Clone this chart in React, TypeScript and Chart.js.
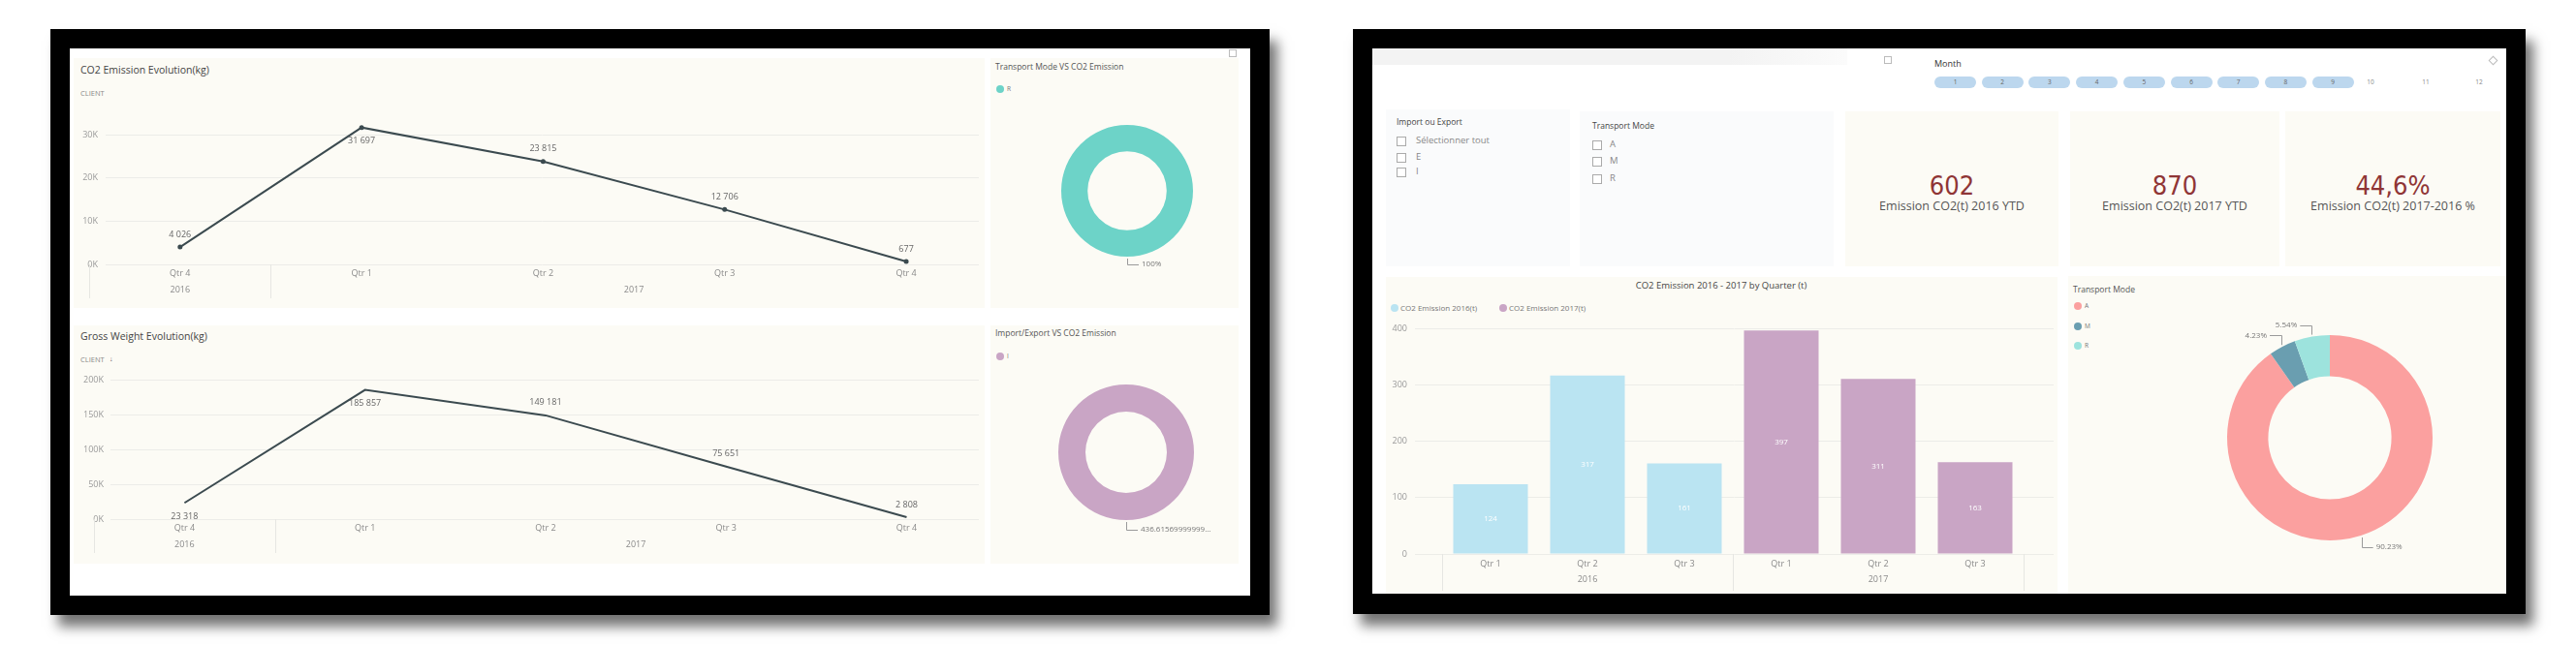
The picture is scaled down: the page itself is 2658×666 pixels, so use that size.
import React, { useEffect, useRef } from "react";
import { Chart, registerables } from "chart.js";

Chart.register(...registerables);

// ---------------- DATA ----------------
const lineQuarters = ["Qtr 4", "Qtr 1", "Qtr 2", "Qtr 3", "Qtr 4"];
const lineYears = ["2016", "2017", "2017", "2017", "2017"];
const co2EmissionKg = [4026, 31697, 23815, 12706, 677];
const grossWeightKg = [23318, 185857, 149181, 75651, 2808];
const co2TicksKg = [0, 10000, 20000, 30000];
const weightTicksKg = [0, 50000, 100000, 150000, 200000];

const barQuarters = ["Qtr 1", "Qtr 2", "Qtr 3", "Qtr 1", "Qtr 2", "Qtr 3"];
const barYears = ["2016", "2016", "2016", "2017", "2017", "2017"];
const co2Emission2016T = [124, 317, 161];
const co2Emission2017T = [397, 311, 163];
const barTicks = [0, 100, 200, 300, 400];
const barSeriesNames = ["CO2 Emission 2016(t)", "CO2 Emission 2017(t)"];

const transportModes = ["A", "M", "R"];
const transportShares = [90.23, 4.23, 5.54];
const filteredModes = ["R"];
const filteredModeShares = [100];
const importExportCodes = ["I"];
const importExportValues = [436.6156999999999];

const months = ["1", "2", "3", "4", "5", "6", "7", "8", "9", "10", "11", "12"];
const selectedMonthCount = 9;
const importExportItems = ["Sélectionner tout", "E", "I"];
const kpiValues = ["602", "870", "44,6%"];
const kpiLabels = ["Emission CO2(t) 2016 YTD", "Emission CO2(t) 2017 YTD", "Emission CO2(t) 2017-2016 %"];

// ---------------- STYLE ----------------
const FONT = "'Open Sans', 'Noto Sans', sans-serif";
const CREAM = "#FCFBF5";
const LINE_COLOR = "#3B4A4F";
const TEAL = "#6DD3C8";
const PURPLE = "#C9A5C5";
const BAR_BLUE = "#BAE4F2";
const MODE_COLORS = ["#FBA09F", "#6A9EB0", "#9DE3DD"];
const PILL = "#BCD7EE";
const KPI_RED = "#8F3535";

Chart.defaults.font.family = FONT;

const fmtThousands = (v: number) => String(Math.round(v)).replace(/\B(?=(\d{3})+(?!\d))/g, " ");

// ---------------- PLUGINS ----------------
const yearGroupsPlugin = {
  id: "yearGroups",
  afterDraw(chart: any, _a: any, opts: any) {
    const { ctx, chartArea } = chart;
    const x = chart.scales.x;
    const years: string[] = opts.years;
    const groups: { label: string; from: number; to: number }[] = [];
    years.forEach((y, i) => {
      const g = groups[groups.length - 1];
      if (g && g.label === y) g.to = i;
      else groups.push({ label: y, from: i, to: i });
    });
    const b = chartArea.bottom;
    ctx.save();
    ctx.strokeStyle = "#E6E6E2";
    ctx.lineWidth = 1;
    const seps = groups.map((g) => g.from - 0.5).concat([years.length - 0.5]);
    seps.forEach((v) => {
      const px = Math.round(x.getPixelForValue(v)) + 0.5;
      ctx.beginPath();
      ctx.moveTo(px, b);
      ctx.lineTo(px, b + opts.sepLength);
      ctx.stroke();
    });
    ctx.fillStyle = "#8a8a8a";
    ctx.font = `9px ${FONT}`;
    ctx.textAlign = "center";
    ctx.textBaseline = "middle";
    groups.forEach((g) => ctx.fillText(g.label, x.getPixelForValue((g.from + g.to) / 2), b + opts.yearOffset));
    ctx.restore();
  },
};

const pointLabelsPlugin = {
  id: "pointLabels",
  afterDatasetsDraw(chart: any, _a: any, opts: any) {
    const { ctx } = chart;
    const meta = chart.getDatasetMeta(0);
    const data = chart.data.datasets[0].data;
    ctx.save();
    ctx.fillStyle = "#666";
    ctx.font = `9px ${FONT}`;
    ctx.textAlign = "center";
    ctx.textBaseline = "middle";
    meta.data.forEach((el: any, i: number) => {
      const pos = opts.positions[i];
      const dy = pos === "below" ? 14 : -13;
      ctx.fillText(fmtThousands(data[i].y), el.x, el.y + dy);
    });
    ctx.restore();
  },
};

const barLabelsPlugin = {
  id: "barLabels",
  afterDatasetsDraw(chart: any) {
    const { ctx } = chart;
    ctx.save();
    ctx.fillStyle = "#ffffff";
    ctx.font = `8px ${FONT}`;
    ctx.textAlign = "center";
    ctx.textBaseline = "middle";
    chart.data.datasets.forEach((ds: any, di: number) => {
      chart.getDatasetMeta(di).data.forEach((el: any, i: number) => {
        const p = el.getProps(["x", "y", "base"], true);
        ctx.fillText(String(ds.data[i].y), p.x, (p.y + p.base) / 2);
      });
    });
    ctx.restore();
  },
};

const donutLabelsPlugin = {
  id: "donutLabels",
  afterDatasetsDraw(chart: any, _a: any, opts: any) {
    const { ctx } = chart;
    const meta = chart.getDatasetMeta(0);
    const data: number[] = chart.data.datasets[0].data;
    const total = data.reduce((a, b) => a + b, 0);
    ctx.save();
    ctx.strokeStyle = "#9a9a9a";
    ctx.lineWidth = 1;
    ctx.fillStyle = "#777";
    ctx.font = `8px ${FONT}`;
    ctx.textBaseline = "middle";
    meta.data.forEach((arc: any, i: number) => {
      const p = arc.getProps(["x", "y", "startAngle", "endAngle", "outerRadius"], true);
      const mid = (p.startAngle + p.endAngle) / 2;
      const c = Math.cos(mid);
      const s = Math.sin(mid);
      const px = p.x + c * (p.outerRadius + 2);
      const py = p.y + s * (p.outerRadius + 2);
      const ey = py + (s > 0 ? opts.drop : -opts.drop);
      const dir = c >= -1e-6 ? 1 : -1;
      const hx = px + dir * 12;
      ctx.beginPath();
      ctx.moveTo(Math.round(px) + 0.5, py);
      ctx.lineTo(Math.round(px) + 0.5, Math.round(ey) + 0.5);
      ctx.lineTo(hx, Math.round(ey) + 0.5);
      ctx.stroke();
      ctx.textAlign = dir > 0 ? "left" : "right";
      ctx.fillText(opts.format(data[i], total), hx + dir * 3, ey);
    });
    ctx.restore();
  },
};

// ---------------- CONFIG BUILDERS ----------------
function makeLineConfig(o: {
  values: number[];
  ticks: number[];
  yMax: number;
  yWidth: number;
  yPad: number;
  padRight: number;
  xHeight: number;
  labelPos: string[];
  showPoints: boolean;
}): any {
  const idx = lineQuarters.map((_, i) => i);
  return {
    type: "line",
    data: {
      datasets: [
        {
          data: o.values.map((v, i) => ({ x: i, y: v })),
          borderColor: LINE_COLOR,
          borderWidth: 2,
          pointRadius: o.showPoints ? 2.5 : 0,
          pointBackgroundColor: LINE_COLOR,
          pointBorderWidth: 0,
          tension: 0,
          clip: false,
        },
      ],
    },
    options: {
      responsive: false,
      animation: false,
      devicePixelRatio: 1,
      layout: { padding: { left: 0, right: o.padRight, top: 12, bottom: 0 } },
      plugins: {
        legend: { display: false },
        tooltip: { enabled: false },
        yearGroups: { years: lineYears, sepLength: 35, yearOffset: 26 },
        pointLabels: { positions: o.labelPos },
      },
      scales: {
        x: {
          type: "linear",
          min: -0.41,
          max: 4.4,
          offset: false,
          grid: { display: false, drawTicks: false },
          border: { display: false },
          afterBuildTicks: (s: any) => {
            s.ticks = idx.map((v) => ({ value: v }));
          },
          afterFit: (s: any) => {
            s.height = o.xHeight;
          },
          ticks: {
            autoSkip: false,
            maxRotation: 0,
            padding: 4,
            color: "#8a8a8a",
            font: { size: 9 },
            callback: (v: any) => lineQuarters[v] ?? "",
          },
        },
        y: {
          min: 0,
          max: o.yMax,
          grid: { color: "#ECECE8", drawTicks: false },
          border: { display: false },
          afterBuildTicks: (s: any) => {
            s.ticks = o.ticks.map((v) => ({ value: v }));
          },
          afterFit: (s: any) => {
            s.width = o.yWidth;
          },
          ticks: {
            padding: o.yPad,
            color: "#9a9a9a",
            font: { size: 9 },
            callback: (v: any) => v / 1000 + "K",
          },
        },
      },
    },
    plugins: [yearGroupsPlugin, pointLabelsPlugin],
  };
}

function makeBarConfig(): any {
  const n = co2Emission2016T.length;
  const idx = barQuarters.map((_, i) => i);
  const common = { grouped: false, barPercentage: 1, categoryPercentage: 0.77, borderWidth: 0 };
  return {
    type: "bar",
    data: {
      datasets: [
        { label: barSeriesNames[0], data: co2Emission2016T.map((v, i) => ({ x: i, y: v })), backgroundColor: BAR_BLUE, ...common },
        { label: barSeriesNames[1], data: co2Emission2017T.map((v, i) => ({ x: i + n, y: v })), backgroundColor: PURPLE, ...common },
      ],
    },
    options: {
      responsive: false,
      animation: false,
      devicePixelRatio: 1,
      layout: { padding: { left: 0, right: 4, top: 12, bottom: 0 } },
      plugins: {
        legend: { display: false },
        tooltip: { enabled: false },
        yearGroups: { years: barYears, sepLength: 38, yearOffset: 26 },
      },
      scales: {
        x: {
          type: "linear",
          min: -0.78,
          max: 5.81,
          offset: false,
          grid: { display: false, drawTicks: false },
          border: { display: false },
          afterBuildTicks: (s: any) => {
            s.ticks = idx.map((v) => ({ value: v }));
          },
          afterFit: (s: any) => {
            s.height = 41;
          },
          ticks: {
            autoSkip: false,
            maxRotation: 0,
            padding: 5,
            color: "#8a8a8a",
            font: { size: 9 },
            callback: (v: any) => barQuarters[v] ?? "",
          },
        },
        y: {
          min: 0,
          max: 400,
          grid: { color: "#ECECE8", drawTicks: false },
          border: { display: false },
          afterBuildTicks: (s: any) => {
            s.ticks = barTicks.map((v) => ({ value: v }));
          },
          afterFit: (s: any) => {
            s.width = 30;
          },
          ticks: { padding: 8, color: "#9a9a9a", font: { size: 9 } },
        },
      },
    },
    plugins: [yearGroupsPlugin, barLabelsPlugin],
  };
}

const pctFormat = (v: number, total: number) => `${+((v / total) * 100).toFixed(2)}%`;
const valueFormat = (v: number) => {
  const s = String(v);
  return s.length > 15 ? s.slice(0, 15) + "..." : s;
};

function makeDonutConfig(labels: string[], values: number[], colors: string[], pad: any, format: any, drop: number): any {
  return {
    type: "doughnut",
    data: { labels, datasets: [{ data: values, backgroundColor: colors, borderWidth: 0, hoverOffset: 0, offset: 0 }] },
    options: {
      responsive: false,
      animation: false,
      devicePixelRatio: 1,
      cutout: "60%",
      layout: { padding: pad },
      plugins: { legend: { display: false }, tooltip: { enabled: false }, donutLabels: { format, drop } },
    },
    plugins: [donutLabelsPlugin],
  };
}

// ---------------- COMPONENTS ----------------
function ChartBox({ x, y, w, h, make }: { x: number; y: number; w: number; h: number; make: () => any }) {
  const ref = useRef<HTMLCanvasElement>(null);
  useEffect(() => {
    const c = new Chart(ref.current as HTMLCanvasElement, make());
    return () => c.destroy();
  }, []);
  return <canvas ref={ref} width={w} height={h} style={{ position: "absolute", left: x, top: y, width: w, height: h }} />;
}

function Txt({
  x,
  y,
  s,
  c = "#555",
  align = "left",
  f = FONT,
  w = 400,
  children,
}: {
  x: number;
  y: number;
  s: number;
  c?: string;
  align?: string;
  f?: string;
  w?: number;
  children: any;
}) {
  const h = Math.ceil(s * 1.4);
  const style: React.CSSProperties = {
    position: "absolute",
    top: y - h / 2,
    height: h,
    lineHeight: h + "px",
    fontSize: s,
    color: c,
    fontFamily: f,
    fontWeight: w,
    whiteSpace: "nowrap",
  };
  style.left = x;
  if (align === "center") style.transform = "translateX(-50%)";
  return <div style={style}>{children}</div>;
}

function Box({ x, y, w, h, bg, extra }: { x: number; y: number; w: number; h: number; bg: string; extra?: React.CSSProperties }) {
  return <div style={{ position: "absolute", left: x, top: y, width: w, height: h, background: bg, ...extra }} />;
}

function Dot({ x, y, color }: { x: number; y: number; color: string }) {
  return <div style={{ position: "absolute", left: x - 4, top: y - 4, width: 8, height: 8, borderRadius: 4, background: color }} />;
}

function Check({ x, y }: { x: number; y: number }) {
  return <div style={{ position: "absolute", left: x, top: y - 4.5, width: 8, height: 8, border: "1px solid #aaa", background: "#fff" }} />;
}

export default function App() {
  const shadow = "8px 12px 12px rgba(0,0,0,0.55)";
  return (
    <div style={{ position: "absolute", left: 0, top: 0, width: 2658, height: 666, background: "#fff", overflow: "hidden" }}>
      {/* ---------- LEFT DASHBOARD ---------- */}
      <Box x={52} y={30} w={1258} h={605} bg="#000" extra={{ boxShadow: shadow }} />
      <Box x={72} y={50} w={1218} h={565} bg="#fff" />
      <Box x={76} y={60} w={940} h={258} bg={CREAM} />
      <Box x={1022} y={60} w={256} h={258} bg={CREAM} />
      <Box x={76} y={336} w={940} h={246} bg={CREAM} />
      <Box x={1022} y={336} w={256} h={246} bg={CREAM} />
      <Box x={1268} y={51} w={6} h={6} bg="transparent" extra={{ border: "1px solid #bbb" }} />

      <Txt x={83} y={72} s={10.5} c="#444">CO2 Emission Evolution(kg)</Txt>
      <Txt x={83} y={96} s={7.5} c="#888">CLIENT</Txt>
      <ChartBox
        x={76}
        y={108}
        w={938}
        h={210}
        make={() =>
          makeLineConfig({
            values: co2EmissionKg,
            ticks: co2TicksKg,
            yMax: 34000,
            yWidth: 33,
            yPad: 8,
            padRight: 3,
            xHeight: 45,
            labelPos: ["above", "below", "above", "above", "above"],
            showPoints: true,
          })
        }
      />

      <Txt x={83} y={347} s={10.5} c="#444">Gross Weight Evolution(kg)</Txt>
      <Txt x={83} y={371} s={7.5} c="#888">CLIENT</Txt>
      <Txt x={113} y={371} s={7} c="#555">↓</Txt>
      <ChartBox
        x={76}
        y={380}
        w={938}
        h={202}
        make={() =>
          makeLineConfig({
            values: grossWeightKg,
            ticks: weightTicksKg,
            yMax: 200000,
            yWidth: 38,
            yPad: 7,
            padRight: 4,
            xHeight: 46,
            labelPos: ["below", "below", "above", "above", "above"],
            showPoints: false,
          })
        }
      />

      <Txt x={1027} y={69} s={8.5} c="#555">Transport Mode VS CO2 Emission</Txt>
      <Dot x={1032} y={92} color={TEAL} />
      <Txt x={1039} y={92} s={6.5} c="#777">{filteredModes[0]}</Txt>
      <ChartBox
        x={1075}
        y={119}
        w={226}
        h={166}
        make={() =>
          makeDonutConfig(filteredModes, filteredModeShares, [TEAL], { left: 20, right: 70, top: 10, bottom: 20 }, pctFormat, 6)
        }
      />

      <Txt x={1027} y={344} s={8.5} c="#555">Import/Export VS CO2 Emission</Txt>
      <Dot x={1032} y={368} color={PURPLE} />
      <Txt x={1039} y={368} s={6.5} c="#777">{importExportCodes[0]}</Txt>
      <ChartBox
        x={1072}
        y={387}
        w={290}
        h={170}
        make={() =>
          makeDonutConfig(importExportCodes, importExportValues, [PURPLE], { left: 20, right: 130, top: 10, bottom: 20 }, valueFormat, 8)
        }
      />

      {/* ---------- RIGHT DASHBOARD ---------- */}
      <Box x={1396} y={30} w={1210} h={604} bg="#000" extra={{ boxShadow: shadow }} />
      <Box x={1416} y={50} w={1170} h={563} bg="#fff" />
      <Box x={1416} y={50} w={490} h={17} bg="linear-gradient(to right, #F3F3F3 75%, #FBFBFB)" />
      <Box x={1944} y={58} w={6} h={6} bg="transparent" extra={{ border: "1px solid #bbb" }} />
      <Box x={2569} y={59} w={5} h={5} bg="transparent" extra={{ border: "1px solid #bbb", transform: "rotate(45deg)" }} />

      <Txt x={1996} y={65} s={9} c="#333">Month</Txt>
      {months.map((m, i) =>
        i < selectedMonthCount ? (
          <div
            key={m}
            style={{
              position: "absolute",
              left: 1996 + i * 48.7,
              top: 79,
              width: 43,
              height: 12,
              borderRadius: 6,
              background: PILL,
              color: "#666",
              fontSize: 6.5,
              lineHeight: "12px",
              textAlign: "center",
              fontFamily: FONT,
            }}
          >
            {m}
          </div>
        ) : (
          <Txt key={m} x={[2446, 2503, 2558][i - selectedMonthCount]} y={85} s={6.5} c="#888" align="center">
            {m}
          </Txt>
        )
      )}

      {/* slicers */}
      <Box x={1430} y={113} w={190} h={162} bg="#FAFBFC" />
      <Txt x={1441} y={126} s={8.5} c="#444">Import ou Export</Txt>
      {importExportItems.map((t, i) => (
        <React.Fragment key={t}>
          <Check x={1441} y={[145, 162, 177][i]} />
          <Txt x={1461} y={[145, 162, 177][i]} s={9.5} c="#888">
            {t}
          </Txt>
        </React.Fragment>
      ))}
      <Box x={1630} y={115} w={262} h={160} bg="#FAFBFC" />
      <Txt x={1643} y={130} s={8.5} c="#444">Transport Mode</Txt>
      {transportModes.map((t, i) => (
        <React.Fragment key={t}>
          <Check x={1643} y={[149, 166, 184][i]} />
          <Txt x={1661} y={[149, 166, 184][i]} s={9.5} c="#888">
            {t}
          </Txt>
        </React.Fragment>
      ))}

      {/* KPI cards */}
      {[
        [1904, 220],
        [2136, 216],
        [2358, 222],
      ].map(([x, w], i) => (
        <React.Fragment key={i}>
          <Box x={x} y={115} w={w} h={160} bg={CREAM} />
          <Txt x={x + w / 2} y={192} s={27} c={KPI_RED} align="center" f="'DejaVu Sans Condensed', 'DejaVu Sans', sans-serif">
            {kpiValues[i]}
          </Txt>
          <Txt x={x + w / 2} y={213} s={12.5} c="#555" align="center">
            {kpiLabels[i]}
          </Txt>
        </React.Fragment>
      ))}

      {/* bar chart */}
      <Box x={1430} y={286} w={693} h={327} bg={CREAM} />
      <Txt x={1776} y={295} s={9.5} c="#444" align="center">
        CO2 Emission 2016 - 2017 by Quarter (t)
      </Txt>
      <Dot x={1439} y={318} color={BAR_BLUE} />
      <Txt x={1445} y={318} s={8} c="#777">{barSeriesNames[0]}</Txt>
      <Dot x={1551} y={318} color={PURPLE} />
      <Txt x={1557} y={318} s={8} c="#777">{barSeriesNames[1]}</Txt>
      <ChartBox x={1430} y={326} w={693} h={287} make={makeBarConfig} />

      {/* transport mode donut */}
      <Box x={2134} y={285} w={452} h={328} bg={CREAM} />
      <Txt x={2139} y={299} s={8.5} c="#555">Transport Mode</Txt>
      {transportModes.map((m, i) => (
        <React.Fragment key={m}>
          <Dot x={2144} y={[316, 337, 357][i]} color={MODE_COLORS[i]} />
          <Txt x={2151} y={[316, 337, 357][i]} s={6.5} c="#777">
            {m}
          </Txt>
        </React.Fragment>
      ))}
      <ChartBox
        x={2188}
        y={316}
        w={412}
        h={272}
        make={() =>
          makeDonutConfig(transportModes, transportShares, MODE_COLORS, { left: 110, right: 90, top: 30, bottom: 30 }, pctFormat, 10)
        }
      />
    </div>
  );
}
